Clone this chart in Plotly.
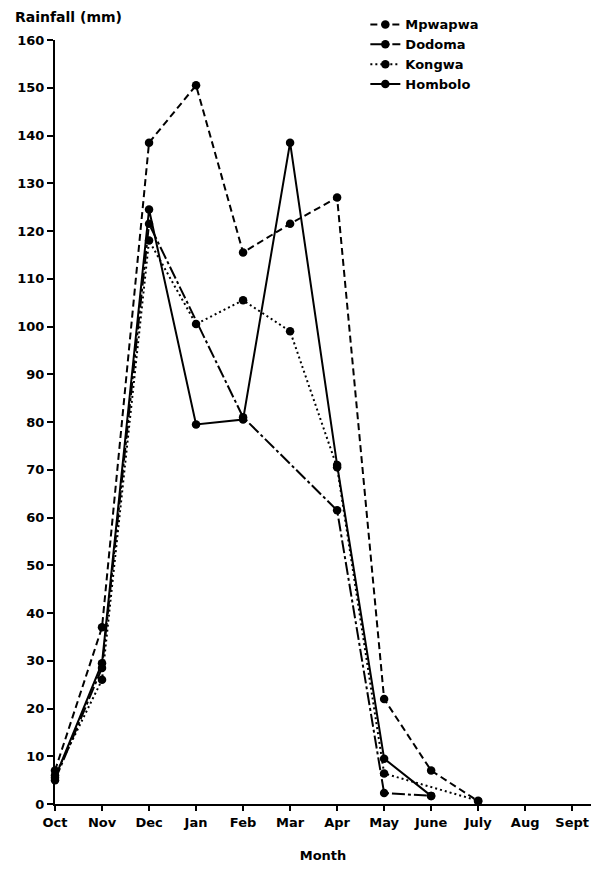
import plotly.graph_objects as go

months = ["Oct", "Nov", "Dec", "Jan", "Feb", "Mar", "Apr", "May", "June", "July", "Aug", "Sept"]
mpwapwa = [7, 37, 138.5, 150.5, 115.5, 121.5, 127, 22, 7, 0.6, None, None]
dodoma = [5, 28.5, 121.5, None, 81, None, 61.5, 2.3, 1.7, None, None, None]
kongwa = [6, 26, 118, 100.5, 105.5, 99, 70.5, 6.4, None, 0.7, None, None]
hombolo = [5.5, 29.5, 124.5, 79.5, 80.5, 138.5, 71, 9.5, 1.7, None, None, None]
y_ticks = list(range(0, 161, 10))

series = [
    ("Mpwapwa", mpwapwa, "7px,4px"),
    ("Dodoma", dodoma, "13px,3px,3px,3px"),
    ("Kongwa", kongwa, "2px,3px"),
    ("Hombolo", hombolo, "solid"),
]

fig = go.Figure()
xs = list(range(len(months)))
for name, vals, dash in series:
    fig.add_trace(go.Scatter(
        x=xs, y=vals, name=name, mode="lines+markers",
        connectgaps=True, cliponaxis=False,
        line=dict(color="black", width=2, dash=dash),
        marker=dict(color="black", size=8.5, symbol="circle"),
    ))

# page body has an 8px default margin, so the figure is offset by 8px
font_family = "DejaVu Sans, Liberation Sans, sans-serif"
fig.update_layout(
    width=600, height=861,
    margin=dict(l=47, r=17, t=32, b=65, autoexpand=False),
    paper_bgcolor="white", plot_bgcolor="white",
    font=dict(family=font_family, color="black", size=13),
    showlegend=True,
    legend=dict(
        x=0.579, y=1.040, xanchor="left", yanchor="top",
        bgcolor="rgba(0,0,0,0)", font=dict(size=13, weight="bold"),
        tracegroupgap=0, itemwidth=30,
    ),
    xaxis=dict(
        range=[0, 11.4], tickmode="array", tickvals=xs, ticktext=months,
        showline=True, linecolor="black", linewidth=2,
        ticks="outside", ticklen=5, tickwidth=1.5, tickcolor="black",
        showgrid=False, zeroline=False, automargin=False,
        tickfont=dict(size=13, weight="bold"),
        title=dict(text="Month", font=dict(size=13, weight="bold"), standoff=22),
    ),
    yaxis=dict(
        range=[0, 160], tickmode="array", tickvals=y_ticks,
        showline=True, linecolor="black", linewidth=2,
        ticks="outside", ticklen=6, tickwidth=1.5, tickcolor="black",
        showgrid=False, zeroline=False, automargin=False,
        tickfont=dict(size=13, weight="bold"),
    ),
    annotations=[dict(
        text="Rainfall (mm)", xref="paper", yref="paper",
        x=-0.078, y=1.030, xanchor="left", yanchor="middle", showarrow=False,
        font=dict(size=14, weight="bold"),
    )],
)

fig.write_html("out.html")
